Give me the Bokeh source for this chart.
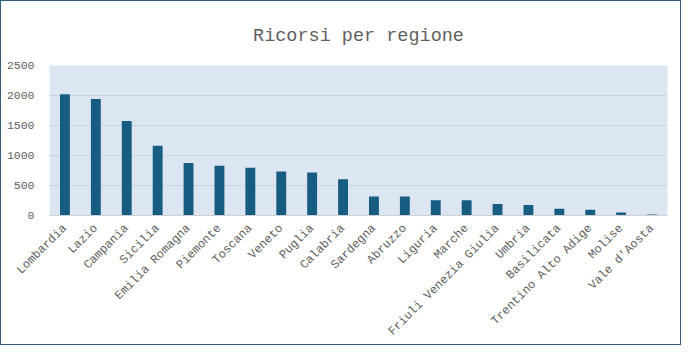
import math
from bokeh.plotting import figure
from bokeh.models import ColumnDataSource, FactorRange, Range1d, FixedTicker
from bokeh.embed import file_html
from bokeh.resources import INLINE

regions = ["Lombardia", "Lazio", "Campania", "Sicilia", "Emilia Romagna", "Piemonte",
           "Toscana", "Veneto", "Puglia", "Calabria", "Sardegna", "Abruzzo", "Liguria",
           "Marche", "Friuli Venezia Giulia", "Umbria", "Basilicata",
           "Trentino Alto Adige", "Molise", "Vale d'Aosta"]
ricorsi = [2022, 1943, 1576, 1162, 876, 828, 796, 732, 716, 605,
           318, 318, 255, 255, 191, 175, 111, 96, 48, 16]
y_ticks = [0, 500, 1000, 1500, 2000, 2500]
chart_title = "Ricorsi per regione"

src = ColumnDataSource(dict(regione=regions, ricorsi=ricorsi))

p = figure(width=681, height=345, output_backend="svg", toolbar_location=None,
           x_range=FactorRange(*regions, range_padding=0),
           y_range=Range1d(0, 2500),
           title=chart_title,
           min_border_left=48, min_border_right=15, min_border_top=64, min_border_bottom=120)

p.vbar(x="regione", top="ricorsi", width=0.32, source=src,
       fill_color="#175d82", line_color=None)

p.title.align = "center"
p.title.offset = -17
p.title.text_font = "Liberation Mono"
p.title.text_font_size = "18.5px"
p.title.text_font_style = "normal"
p.title.text_color = "#5f5f5f"
p.title.standoff = 38

p.background_fill_color = "#dce6f2"
p.border_fill_color = "white"
p.outline_line_color = None

p.xgrid.grid_line_color = None
p.ygrid.grid_line_color = "#c9d4e1"
p.ygrid.grid_line_width = 1

p.yaxis.ticker = FixedTicker(ticks=y_ticks)
p.yaxis.axis_line_color = None
p.yaxis.major_tick_line_color = None
p.yaxis.minor_tick_line_color = None
p.yaxis.major_label_text_font = "Liberation Mono"
p.yaxis.major_label_text_font_size = "11.5px"
p.yaxis.major_label_text_color = "#5f5f5f"
p.yaxis.major_label_standoff = 9

p.xaxis.axis_line_color = "#d0d0d0"
p.xaxis.major_tick_line_color = None
p.xaxis.minor_tick_line_color = None
p.xaxis.major_label_orientation = math.pi / 4
p.xaxis.major_label_text_font = "Liberation Mono"
p.xaxis.major_label_text_font_size = "12px"
p.xaxis.major_label_text_color = "#5f5f5f"

p.styles = {"border": "1.5px solid #2f5f80", "box-sizing": "border-box"}

open("out.html", "w").write(file_html(p, INLINE))
